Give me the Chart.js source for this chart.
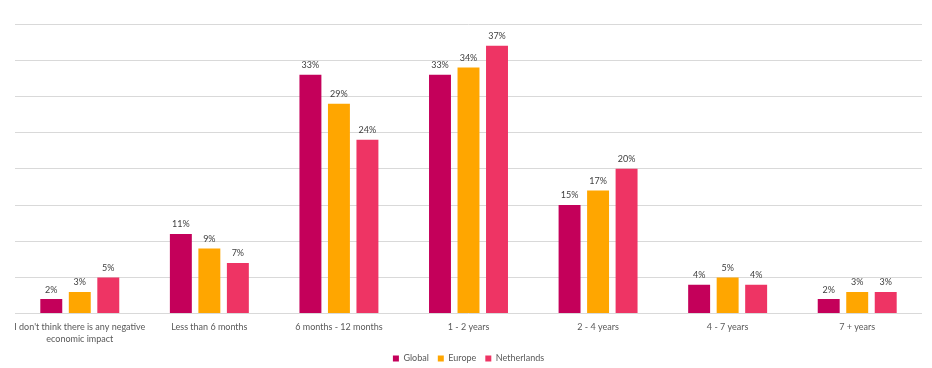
<!DOCTYPE html>
<html>
<head>
<meta charset="utf-8">
<script src="https://cdn.jsdelivr.net/npm/chart.js@4/dist/chart.umd.min.js"></script>
<style>
  html, body { margin: 0; padding: 0; background: #fff; }
  #wrap { width: 932px; height: 368px; }
</style>
</head>
<body>
<div id="wrap"><canvas id="chart"></canvas></div>
<script>
const categories = [
  ["I don't think there is any negative", "economic impact"],
  "Less than 6 months",
  "6 months - 12 months",
  "1 - 2 years",
  "2 - 4 years",
  "4 - 7 years",
  "7 + years",
];
const globalValues = [2, 11, 33, 33, 15, 4, 2];
const europeValues = [3, 9, 29, 34, 17, 5, 3];
const netherlandsValues = [5, 7, 24, 37, 20, 4, 3];

const FONT = "Lato, 'Open Sans', sans-serif";

// draws the % above each bar
const barLabels = {
  id: "barLabels",
  afterDatasetsDraw(chart) {
    const ctx = chart.ctx;
    ctx.save();
    ctx.font = "9px " + FONT;
    ctx.fillStyle = "#404040";
    ctx.textAlign = "center";
    ctx.textBaseline = "bottom";
    chart.data.datasets.forEach((ds, i) => {
      chart.getDatasetMeta(i).data.forEach((bar, j) => {
        ctx.fillText(ds.data[j] + "%", bar.x, bar.y - 5);
      });
    });
    ctx.restore();
  },
};

new Chart(document.getElementById("chart").getContext("2d"), {
  type: "bar",
  data: {
    labels: categories,
    datasets: [
      { label: "Global", data: globalValues, backgroundColor: "#C4005A" },
      { label: "Europe", data: europeValues, backgroundColor: "#FFA600" },
      { label: "Netherlands", data: netherlandsValues, backgroundColor: "#EE3464" },
    ],
  },
  options: {
    responsive: true,
    maintainAspectRatio: false,
    animation: false,
    layout: { padding: { left: 15, right: 10, top: 24, bottom: -5 } },
    datasets: {
      bar: { categoryPercentage: 0.66, barPercentage: 0.77 },
    },
    scales: {
      x: {
        grid: { display: false },
        border: { display: false },
        ticks: {
          color: "#595959",
          font: { family: FONT, size: 9, lineHeight: 1.3 },
          maxRotation: 0,
          autoSkip: false,
          padding: 0,
        },
      },
      y: {
        min: 0,
        max: 40,
        ticks: { display: false, stepSize: 5 },
        grid: { color: "#d9d9d9", drawTicks: false },
        border: { display: false },
      },
    },
    plugins: {
      legend: {
        position: "bottom",
        labels: {
          boxWidth: 6,
          boxHeight: 6,
          color: "#595959",
          font: { family: FONT, size: 9 },
          padding: 9,
        },
      },
      tooltip: { enabled: false },
    },
  },
  plugins: [barLabels],
});
</script>
</body>
</html>
